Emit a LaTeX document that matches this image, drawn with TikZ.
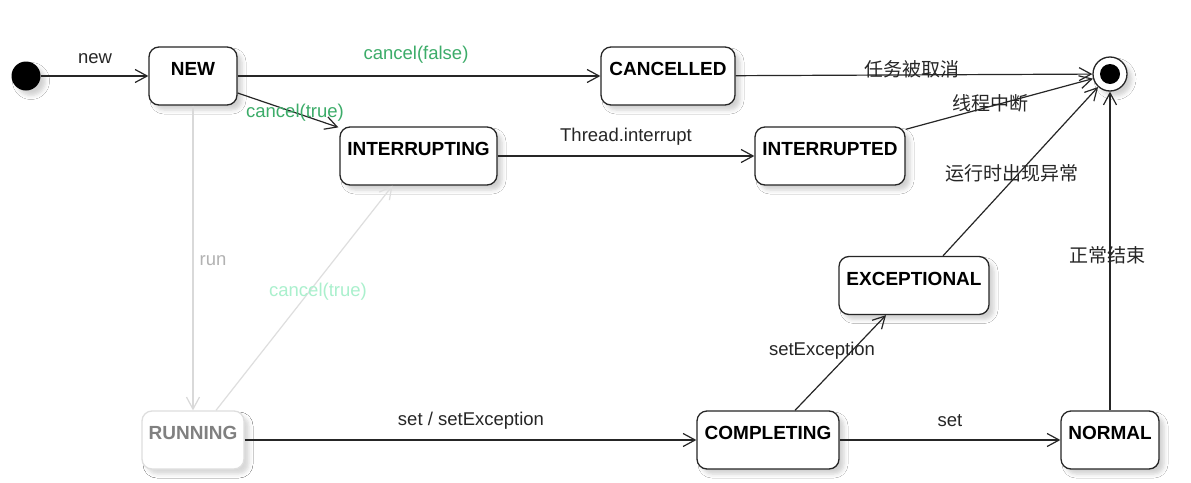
\documentclass[tikz,border=0pt]{standalone}
\usepackage{fontspec}
\setmainfont{Liberation Sans}
\newfontfamily\cjk{Noto Sans CJK SC}
\usetikzlibrary{arrows.meta,shadows.blur}
\newcommand\raiseup[1]{\raisebox{7pt}[\height][\depth]{#1}}
\definecolor{cgreen}{RGB}{60,172,105}
\definecolor{cmint}{RGB}{170,240,205}
\begin{document}
\begin{tikzpicture}[x=1pt,y=-1pt,
  shd/.style={blur shadow={shadow xshift=5pt, shadow yshift=-5pt, shadow blur radius=4pt, shadow opacity=#1}},
  shd/.default=18,
  st/.style={draw=black!85, line width=1.3pt, rounded corners=10pt, fill=white,
    font=\bfseries\fontsize{19}{22}\selectfont, inner sep=0pt, minimum height=58pt, shd},
  tr/.style={draw=black!85, line width=1.2pt, -{Straight Barb[length=12pt,width=13pt]}},
  lbl/.style={font=\fontsize{18.5}{22}\selectfont, text=black!85, inner sep=0pt, yshift=-2pt},
  zh/.style={font=\cjk\fontsize{19}{22}\selectfont, text=black!85, inner sep=0pt, yshift=-1pt},
]
\fill[white] (0,0) rectangle (1191,482);
\useasboundingbox (0,0) rectangle (1191,482);

% states
\node[circle, fill=black, minimum size=29pt, inner sep=0pt, shd] (init) at (26,76) {};
\node[circle, draw=black!85, line width=1.3pt, fill=white, minimum size=34pt, inner sep=0pt, shd,
  path picture={\fill[black] (path picture bounding box.center) circle[radius=10pt];}] (end) at (1110,74) {};
\node[st, minimum width=88pt] (new) at (193,76) {\raiseup{NEW}};
\node[st, minimum width=134pt] (can) at (668,76) {\raiseup{CANCELLED}};
\node[st, minimum width=157pt] (intg) at (418.5,156) {\raiseup{INTERRUPTING}};
\node[st, minimum width=150pt] (intd) at (830,156) {\raiseup{INTERRUPTED}};
\node[st, minimum width=150pt] (exc) at (914,285.5) {\raiseup{EXCEPTIONAL}};
\node[st, minimum width=102pt, draw=black!13, text=black!50, shd=8] (run) at (193,440) {\raiseup{RUNNING}};
\node[st, minimum width=142pt] (comp) at (768,440) {\raiseup{COMPLETING}};
\node[st, minimum width=98pt] (norm) at (1110,440) {\raiseup{NORMAL}};

% transitions
\draw[tr] (init) -- (new) node[lbl] at (95,57) {new};
\draw[tr] (new) -- (can) node[lbl, text=cgreen] at (416,53) {cancel(false)};
\draw[tr] (can) -- (end) node[zh] at (912,68) {任务被取消};
\draw[tr] ([yshift=-17pt]new.east) -- ([xshift=-1pt,yshift=-1pt]intg.north west)
  node[lbl, text=cgreen] at (295,111) {cancel(true)};
\draw[tr] (intg) -- (intd) node[lbl] at (626,135) {Thread.interrupt};
\draw[tr] ([yshift=-3pt]intd.north east) -- (end) node[zh] at (990,102) {线程中断};
\draw[tr] ([xshift=29pt]exc.north) -- (end) node[zh] at (1012,172) {运行时出现异常};
\draw[tr] (norm) -- (end) node[zh] at (1107,254) {正常结束};
\draw[tr, draw=black!15] (new) -- (run) node[lbl, text=black!30] at (213,259) {run};
\draw[tr, draw=black!13] ([xshift=23pt]run.north) -- ([xshift=-26pt]intg.south)
  node[lbl, text=cmint] at (318,290) {cancel(true)};
\draw[tr] (run) -- (comp) node[lbl] at (471,419) {set / setException};
\draw[tr] ([xshift=27pt]comp.north) -- ([xshift=-28pt]exc.south)
  node[lbl] at (822,349) {setException};
\draw[tr] (comp) -- (norm) node[lbl] at (950,419) {set};
\end{tikzpicture}
\end{document}
